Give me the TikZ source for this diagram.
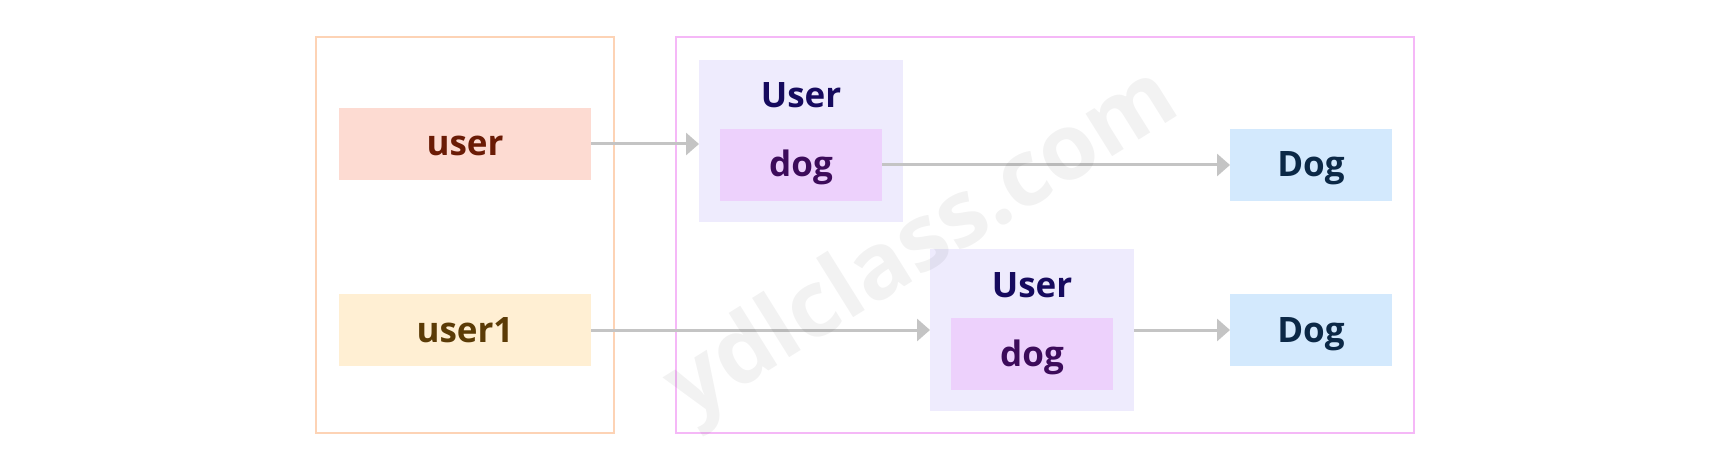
\documentclass[tikz,border=0pt]{standalone}
\usepackage{fontspec}
\setmainfont{Open Sans}
\usetikzlibrary{arrows.meta}
\definecolor{leftframe}{HTML}{FDD3B5}
\definecolor{rightframe}{HTML}{F5B8F7}
\definecolor{userfill}{HTML}{FDDBD2}
\definecolor{usertext}{HTML}{6A1B05}
\definecolor{useronefill}{HTML}{FFEFD3}
\definecolor{useronetext}{HTML}{5B3B06}
\definecolor{clsfill}{HTML}{EEEBFD}
\definecolor{clstext}{HTML}{160A5E}
\definecolor{dogfill}{HTML}{EDD1FC}
\definecolor{dogtext}{HTML}{3C0B5A}
\definecolor{Dogfill}{HTML}{D3E9FD}
\definecolor{Dogtext}{HTML}{0B2846}
\definecolor{arrowgray}{HTML}{C4C4C4}
\tikzset{
  frame/.style={draw, line width=2.8pt, fill=none},
  box/.style={inner sep=0pt, outer sep=0pt, minimum width=#1},
  smallbox/.style={box=162pt, minimum height=72pt},
  widebox/.style={box=252pt, minimum height=72pt},
  clsbox/.style={box=204pt, minimum height=162pt, fill=clsfill},
  lbl/.style={anchor=base, inner sep=0pt, font=\bfseries\fontsize{35}{40}\selectfont},
  conn/.style={draw=arrowgray, line width=3pt, -{Triangle[length=13pt,width=22pt]}},
}
\begin{document}
\begin{tikzpicture}[x=1pt,y=-1pt]
\useasboundingbox (0,0) rectangle (1731,465);
% frames
\node[frame, draw=leftframe, minimum width=298pt, minimum height=396pt, inner sep=0pt] (L) at (465,235) {};
\node[frame, draw=rightframe, minimum width=738pt, minimum height=396pt, inner sep=0pt] (R) at (1045,235) {};
% left variables
\node[widebox, fill=userfill] (user) at (465,144) {};
\node[lbl, text=usertext] (usert) at (465,156) {user};
\node[widebox, fill=useronefill] (user1) at (465,330) {};
\node[lbl, text=useronetext] (user1t) at (465,342) {user1};
% first User object
\node[clsbox] (U1) at (801,141) {};
\node[lbl, text=clstext] (U1t) at (801,108) {User};
\node[smallbox, fill=dogfill] (dog1) at (801,165) {};
\node[lbl, text=dogtext] (dog1t) at (801,177) {dog};
% second User object
\node[clsbox] (U2) at (1032,330) {};
\node[lbl, text=clstext] (U2t) at (1032,297) {User};
\node[smallbox, fill=dogfill] (dog2) at (1032,354) {};
\node[lbl, text=dogtext] (dog2t) at (1032,366) {dog};
% Dog objects
\node[smallbox, fill=Dogfill] (Dog1) at (1311,165) {};
\node[lbl, text=Dogtext] (Dog1t) at (1311,177) {Dog};
\node[smallbox, fill=Dogfill] (Dog2) at (1311,330) {};
\node[lbl, text=Dogtext] (Dog2t) at (1311,342) {Dog};
% connectors
\draw[conn] (user.east) -- (user.east -| U1.west);
\draw[conn] (dog1.east) -- (Dog1.west);
\draw[conn] (user1.east) -- (U2.west);
\draw[conn] (U2.east) -- (Dog2.west);
% watermark
\node[rotate=32, text=black, text opacity=0.05, inner sep=0pt, font=\bfseries\fontsize{92}{94}\selectfont] (wm) at (924,246) {ydlclass.com};
\end{tikzpicture}
\end{document}
